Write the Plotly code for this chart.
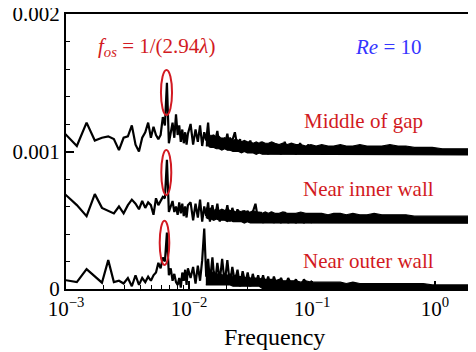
import plotly.graph_objects as go

# ---------------- data ----------------
# low-frequency FFT bins (k = 4..40)
f_low = [0.00098, 0.001225, 0.00147, 0.001715, 0.00196, 0.002205, 0.00245, 0.002695, 0.00294, 0.003185,
         0.00343, 0.003675, 0.00392, 0.004165, 0.00441, 0.004655, 0.0049, 0.005145, 0.00539, 0.005635,
         0.00588, 0.006125, 0.00637, 0.006615, 0.00686, 0.007105, 0.00735, 0.007595, 0.00784, 0.008085,
         0.00833, 0.008575, 0.00882, 0.009065, 0.00931, 0.009555, 0.0098]

middle_low = [0.00113, 0.00104, 0.00121, 0.00108, 0.00110, 0.00111, 0.00109, 0.00101, 0.00110, 0.00111,
              0.00119, 0.00105, 0.00100, 0.00110, 0.00114, 0.00121, 0.00110, 0.00118, 0.00112, 0.00109,
              0.00112, 0.00125, 0.00119, 0.00150, 0.00106, 0.00114, 0.00121, 0.00110, 0.00127, 0.00112,
              0.00119, 0.00107, 0.00116, 0.00106, 0.00114, 0.00105, 0.00113]
inner_low = [0.00069, 0.00061, 0.00053, 0.00069, 0.00059, 0.00057, 0.00055, 0.00060, 0.00055, 0.00061,
             0.00065, 0.00062, 0.00058, 0.00064, 0.00059, 0.00063, 0.00061, 0.00054, 0.00066, 0.00061,
             0.00064, 0.00067, 0.00066, 0.00094, 0.00056, 0.00061, 0.00064, 0.00056, 0.00060, 0.00054,
             0.00063, 0.00055, 0.00062, 0.00053, 0.00060, 0.00052, 0.00061]
outer_low = [0.000065, 0.00005, 0.000145, 0.000095, 0.000046, 0.00021, 0.00005, 0.00006, 0.00004, 0.00008,
             0.00002, 0.0001, 0.00003, 0.00008, 0.00005, 0.00009, 0.00006, 0.0001, 0.00012, 0.00019,
             0.00015, 0.00023, 0.0002, 0.00041, 0.0001, 0.00015, 0.00006, 0.00011, 0.00005, 0.00003,
             0.00008, 0.00001, 0.00012, 0.00006, 0.00014, 0.00003, 0.00015]

# intermediate frequencies (sampled spikes)
f_mid = [0.0103, 0.0108, 0.0113, 0.0118, 0.0123, 0.0128, 0.0133, 0.0138, 0.0143, 0.0148,
         0.0155, 0.0162, 0.0170, 0.0178, 0.0186, 0.0195, 0.0205, 0.0215, 0.0225, 0.0236,
         0.0248, 0.026, 0.0273, 0.0287, 0.030, 0.0315, 0.033, 0.0347, 0.0365, 0.0383,
         0.040, 0.042, 0.044, 0.0465, 0.049, 0.052, 0.056, 0.06, 0.064, 0.069,
         0.074, 0.08, 0.086, 0.093, 0.1]
middle_mid = [0.00120, 0.00105, 0.00116, 0.00107, 0.00119, 0.00104, 0.00114, 0.00108, 0.00121, 0.00103,
              0.00112, 0.00106, 0.00115, 0.00102, 0.00110, 0.00104, 0.00113, 0.00101, 0.00108, 0.00114,
              0.00103, 0.00109, 0.00100, 0.00107, 0.00101, 0.00108, 0.00100, 0.00106, 0.00099, 0.00107,
              0.00100, 0.00105, 0.00098, 0.00106, 0.00099, 0.00105, 0.00098, 0.00107, 0.00099, 0.00105,
              0.00098, 0.00106, 0.00099, 0.00105, 0.00100]
inner_mid = [0.00063, 0.00050, 0.00062, 0.00052, 0.00065, 0.00049, 0.00060, 0.00053, 0.00063, 0.00049,
             0.00061, 0.00051, 0.00062, 0.00049, 0.00058, 0.00051, 0.00061, 0.00049, 0.00059, 0.00052,
             0.00058, 0.00049, 0.00057, 0.00050, 0.00057, 0.00049, 0.00056, 0.00062, 0.00050, 0.00056,
             0.00048, 0.00055, 0.00049, 0.00056, 0.00048, 0.00055, 0.00048, 0.00056, 0.00048, 0.00055,
             0.00048, 0.00054, 0.00048, 0.00055, 0.00048]
outer_mid = [0.00008, 0.00016, 0.00004, 0.00017, 0.00006, 0.00021, 0.00044, 0.00009, 0.00022, 0.00005,
             0.00023, 0.00003, 0.00019, 0.00006, 0.00022, 0.00004, 0.00021, 0.00003, 0.00016, 0.00005,
             0.00014, 0.00002, 0.00013, 0.00004, 0.00012, 0.00002, 0.00011, 0.00003, 0.00010, 0.00002,
             0.00010, 0.00002, 0.00009, 0.00001, 0.00009, 0.00002, 0.00008, 0.00001, 0.00008, 0.00002,
             0.00007, 0.00001, 0.00007, 0.00002, 0.00006]

# dense noise band envelopes (upper / lower edge)
f_band = [0.0137, 0.0144, 0.0151, 0.0159, 0.0167, 0.0176, 0.0185, 0.0195, 0.0205, 0.0216,
          0.0228, 0.024, 0.0253, 0.0267, 0.0282, 0.0298, 0.0315, 0.0333, 0.0352, 0.0372,
          0.0394, 0.0417, 0.0442, 0.047, 0.05, 0.054, 0.058, 0.063, 0.068, 0.074,
          0.081, 0.089, 0.098, 0.108, 0.12, 0.135, 0.15, 0.17, 0.19, 0.215,
          0.245, 0.28, 0.32, 0.37, 0.43, 0.5, 0.58, 0.68, 0.8, 0.95,
          1.15, 1.5, 2.2]
middle_up = [0.00112, 0.00113, 0.00111, 0.00112, 0.00110, 0.00111, 0.00109, 0.00110, 0.00109, 0.00110,
             0.00108, 0.00109, 0.00108, 0.00107, 0.00108, 0.00107, 0.00107, 0.00106, 0.00107, 0.00106,
             0.00107, 0.00106, 0.00106, 0.00107, 0.00106, 0.00105, 0.00106, 0.00105, 0.00106, 0.00105,
             0.00105, 0.00104, 0.00105, 0.00104, 0.00105, 0.00104, 0.00104, 0.00105, 0.00104, 0.00104,
             0.00105, 0.00104, 0.00104, 0.00104, 0.00105, 0.00104, 0.00104, 0.00103, 0.00103, 0.00103,
             0.00102, 0.00102, 0.00102]
middle_lo = [0.00104, 0.00104, 0.00103, 0.00103, 0.00102, 0.00102, 0.00101, 0.00102, 0.00101, 0.00101,
             0.00100, 0.00100, 0.00100, 0.00099, 0.00100, 0.00099, 0.00099, 0.00099, 0.00098, 0.00099,
             0.00098, 0.00098, 0.00098, 0.000975, 0.000975, 0.000975, 0.000975, 0.000975, 0.000975, 0.000975,
             0.000975, 0.000975, 0.000975, 0.000975, 0.000975, 0.000975, 0.000975, 0.000975, 0.000975, 0.000975,
             0.000975, 0.000975, 0.000975, 0.000975, 0.000975, 0.000975, 0.000975, 0.000975, 0.000975, 0.000975,
             0.000975, 0.000975, 0.000975]
inner_up = [0.00059, 0.00058, 0.00059, 0.00057, 0.00058, 0.00057, 0.00058, 0.00057, 0.00058, 0.00057,
            0.00057, 0.00056, 0.00057, 0.00056, 0.00057, 0.00056, 0.00056, 0.00057, 0.00056, 0.00056,
            0.00055, 0.00056, 0.00055, 0.00056, 0.00055, 0.00055, 0.00056, 0.00055, 0.00055, 0.00055,
            0.00056, 0.00055, 0.00055, 0.00055, 0.00055, 0.00054, 0.00055, 0.00055, 0.00054, 0.00055,
            0.00054, 0.00054, 0.00055, 0.00054, 0.00054, 0.00054, 0.00054, 0.00053, 0.00053, 0.00053,
            0.00053, 0.00053, 0.00053]
inner_lo = [0.00052, 0.00051, 0.00051, 0.00050, 0.00051, 0.00050, 0.00050, 0.00050, 0.00049, 0.00050,
            0.00049, 0.00049, 0.00049, 0.00049, 0.00048, 0.00049, 0.00048, 0.00048, 0.00048, 0.00048,
            0.00048, 0.00048, 0.00048, 0.000478, 0.000478, 0.000478, 0.000478, 0.000478, 0.000478, 0.000478,
            0.000478, 0.000478, 0.000478, 0.000478, 0.000478, 0.000478, 0.000478, 0.000478, 0.000478, 0.000478,
            0.000478, 0.000478, 0.000478, 0.000478, 0.000478, 0.000478, 0.000478, 0.000478, 0.000478, 0.000478,
            0.000478, 0.000478, 0.000478]
outer_up = [0.00012, 0.00014, 0.00011, 0.00013, 0.00010, 0.00012, 0.00010, 0.00011, 0.00010, 0.00011,
            0.00009, 0.00010, 0.00009, 0.00009, 0.00008, 0.00009, 0.00008, 0.00008, 0.00008, 0.00007,
            0.00008, 0.00007, 0.00007, 0.00007, 0.00006, 0.00007, 0.00006, 0.00006, 0.00006, 0.00006,
            0.00005, 0.00006, 0.00005, 0.00005, 0.00005, 0.00005, 0.00005, 0.00005, 0.00004, 0.00005,
            0.00004, 0.00004, 0.00004, 0.00004, 0.00004, 0.00004, 0.00004, 0.00004, 0.00004, 0.00003,
            0.00003, 0.00003, 0.00003]
outer_lo = [0.00003, 0.00003, 0.00003, 0.00003, 0.00003, 0.00003, 0.00003, 0.00003, 0.00003, 0.00003,
            0.00002, 0.00002, 0.00002, 0.00002, 0.00002, 0.00002, 0.00002, 0.00002, 0.00002, 0.00002,
            0.000005, 0.000005, 0.000005, 0.000005, 0.000005, 0.000005, 0.000005, 0.000005, 0.000005, 0.000005,
            0.000005, 0.000005, 0.000005, 0.000005, 0.000005, 0.000005, 0.000005, 0.000005, 0.000005, 0.000005,
            0.000005, 0.000005, 0.000005, 0.000005, 0.000005, 0.000005, 0.000005, 0.000005, 0.000005, 0.000005,
            0.000005, 0.000005, 0.000005]

x_tickvals = [0.001, 0.01, 0.1, 1]
x_ticktext = ["10<sup>\u22123</sup>", "10<sup>\u22122</sup>", "10<sup>\u22121</sup>", "10<sup>0</sup>"]
y_tickvals = [0, 0.001, 0.002]
y_ticktext = ["0", "0.001", "0.002"]

RED = "#d21a22"
BLUE = "#3535ff"
FONT = "Liberation Serif"

fig = go.Figure()

for low, mid, up, lo in [(middle_low, middle_mid, middle_up, middle_lo),
                         (inner_low, inner_mid, inner_up, inner_lo),
                         (outer_low, outer_mid, outer_up, outer_lo)]:
    fig.add_trace(go.Scatter(x=f_band + f_band[::-1], y=up + lo[::-1], mode="lines",
                             fill="toself", fillcolor="black",
                             line=dict(color="black", width=1.2)))
    fig.add_trace(go.Scatter(x=f_low + f_mid, y=low + mid, mode="lines",
                             line=dict(color="black", width=2.2)))

# red ellipses around f_os peaks
for x0, x1, y0, y1 in [(0.005916, 0.007278, 0.001265, 0.001593),
                       (0.005953, 0.007180, 0.000684, 0.001011),
                       (0.005778, 0.006916, 0.000175, 0.000497)]:
    fig.add_shape(type="circle", xref="x", yref="y", x0=x0, x1=x1, y0=y0, y1=y1,
                  line=dict(color=RED, width=2))


def px(xp, yp):
    return (xp - 66) / 410, (289 - yp) / 275


ann_font = dict(family=FONT, size=21, color=RED)
for text, (xp, yp), font in [
        ("<i>f</i><sub><i>os</i></sub> = 1/(2.94<i>\u03bb</i>)", (156, 47), ann_font),
        ("<i>Re</i> = 10", (388, 47), dict(family=FONT, size=21, color=BLUE)),
        ("Middle of gap", (363, 121), ann_font),
        ("Near inner wall", (368, 189), ann_font),
        ("Near outer wall", (368, 261), ann_font),
        ("Frequency", (274, 337), dict(family=FONT, size=24, color="black"))]:
    xx, yy = px(xp, yp)
    fig.add_annotation(xref="paper", yref="paper", x=xx, y=yy, text=text, showarrow=False,
                       font=font, xanchor="center", yanchor="middle")

# page body has an 8px margin, so the figure is 8px smaller and margins shifted
fig.update_layout(width=468, height=344, margin=dict(l=58, r=0, t=6, b=63),
                  plot_bgcolor="white", paper_bgcolor="white", showlegend=False,
                  font=dict(family=FONT, size=21, color="black"))
fig.update_xaxes(type="log", range=[-3, 0.3333], showline=True, linecolor="black", linewidth=2,
                 mirror=True, ticks="inside", ticklen=8, tickwidth=1.5, tickcolor="black",
                 tickvals=x_tickvals, ticktext=x_ticktext, showgrid=False, zeroline=False,
                 automargin=False, ticklabeloverflow="allow",
                 minor=dict(ticks="inside", ticklen=4, tickwidth=1, tickcolor="black",
                            dtick="D1", showgrid=False))
fig.update_yaxes(range=[0, 0.002], showline=True, linecolor="black", linewidth=2,
                 mirror=False, ticks="inside", ticklen=8, tickwidth=1.5, tickcolor="black",
                 tickvals=y_tickvals, ticktext=y_ticktext, showgrid=False, zeroline=False,
                 automargin=False, ticklabeloverflow="allow",
                 minor=dict(ticks="inside", ticklen=4, tickwidth=1, tickcolor="black",
                            dtick=0.0002, showgrid=False))

fig.write_html("out.html")
